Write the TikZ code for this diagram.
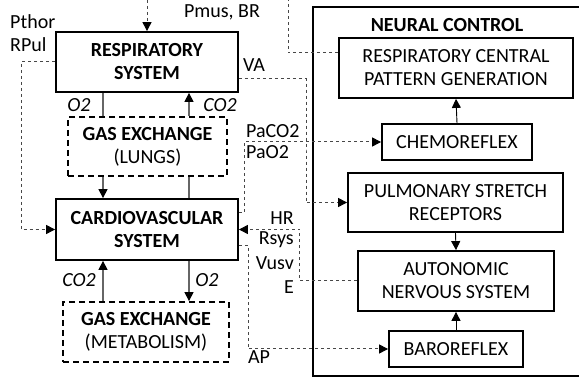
\documentclass[tikz,border=0pt]{standalone}
\usepackage{fontspec}
\setmainfont{Carlito}
\usetikzlibrary{arrows.meta,calc}
\newcommand\dfs{\fontsize{20}{23}\selectfont}
\begin{document}
\begin{tikzpicture}[x=1pt,y=-1pt,
  every node/.style={font=\dfs},
  box/.style={draw,line width=1.8pt,align=center,inner sep=0pt},
  gasbox/.style={draw,line width=1.8pt,align=center,inner sep=0pt,dash pattern=on 6pt off 4pt},
  conn/.style={draw=black!72,line width=1pt,dash pattern=on 3pt off 3pt},
  gasl/.style={draw=black!60,line width=1.2pt},
  tip/.style={-{Triangle[length=9pt,width=9pt,color=black,fill=black]}},
  lab/.style={inner sep=0pt}]
\useasboundingbox (0,0) rectangle (579,379);

% left column
\node[box,font=\dfs\bfseries,minimum width=182pt,minimum height=60pt] (resp) at (147,62) {RESPIRATORY\\SYSTEM};
\node[gasbox,minimum width=159pt,minimum height=59pt] (gasL) at (147.5,146.5) {\textbf{GAS EXCHANGE}\\(LUNGS)};
\node[box,font=\dfs\bfseries,minimum width=182pt,minimum height=61pt] (cv) at (147,229.5) {CARDIOVASCULAR\\SYSTEM};
\node[gasbox,minimum width=166pt,minimum height=60pt] (gasM) at (146,332) {\textbf{GAS EXCHANGE}\\(METABOLISM)};

% neural control
\draw[line width=1.8pt] (313,7) rectangle (600,376);
\node[lab,font=\dfs\bfseries] (nctitle) at (447,25) {NEURAL CONTROL};
\node[box,minimum width=234pt,minimum height=60pt] (rcpg) at (456,68) {RESPIRATORY CENTRAL\\PATTERN GENERATION};
\node[box,minimum width=150pt,minimum height=36pt] (chemo) at (457,142) {CHEMOREFLEX};
\node[box,minimum width=215pt,minimum height=59pt] (psr) at (455.5,202.5) {PULMONARY STRETCH\\RECEPTORS};
\node[box,minimum width=196pt,minimum height=60pt] (ans) at (456,281) {AUTONOMIC\\NERVOUS SYSTEM};
\node[box,minimum width=134pt,minimum height=36pt] (baro) at (456,349) {BAROREFLEX};

\draw[tip,line width=0.9pt] (chemo.north) -- (rcpg.south);
\draw[tip,line width=0.9pt] (psr.south) -- (ans.north);
\draw[tip,line width=0.9pt] (baro.north) -- (ans.south);

% gas lines
\coordinate (xl) at (103,0);
\coordinate (xr) at (189,0);
\draw[gasl] (resp.south -| xl) -- (gasL.north -| xl);
\draw[gasl,tip] (gasL.north -| xr) -- (resp.south -| xr);
\draw[gasl,tip] (gasL.south -| xl) -- (cv.north -| xl);
\draw[gasl] (cv.north -| xr) -- (gasL.south -| xr);
\draw[gasl,tip] (gasM.north -| xl) -- (cv.south -| xl);
\draw[gasl,tip] (cv.south -| xr) -- (gasM.north -| xr);

% dashed connectors
\coordinate (topA) at (147,0);
\coordinate (topB) at (288,0);
\draw[conn,tip] (topA) -- (resp.north);
\draw[conn] ($(rcpg.north west)!0.25!(rcpg.south west)$) -| (topB);
\draw[conn,tip] (resp.west) -| ($(cv.west)+(-34,0)$) -- (cv.west);
\draw[conn,tip] ($(resp.north east)!0.77!(resp.south east)$) -| (306,150) |- (psr.west);
\draw[conn,tip] ($(cv.north east)!0.23!(cv.south east)$) -| (244,170) |- (chemo.west);
\draw[conn,tip] (ans.west) -| ($(cv.east)+(61,0)$) -- (cv.east);
\draw[conn,tip] ($(cv.north east)!0.75!(cv.south east)$) -| (248,300) |- (baro.west);

% labels
\node[lab] (lpmus) at (222,12) {Pmus, BR};
\node[lab,anchor=west] (lpthor) at (10,22) {Pthor};
\node[lab,anchor=west] (lrpul) at (10,45) {RPul};
\node[lab] (lva) at (254,65) {VA};
\node[lab,font=\dfs\itshape] (lo2a) at (79,105) {O2};
\node[lab,font=\dfs\itshape] (lco2a) at (220,105) {CO2};
\node[lab,anchor=west] (lpaco2) at (246,131) {PaCO2};
\node[lab,anchor=west] (lpao2) at (246,152) {PaO2};
\node[lab,anchor=east] (lhr) at (294,218) {HR};
\node[lab,anchor=east] (lrsys) at (294,240) {Rsys};
\node[lab,anchor=east] (lvusv) at (294,263) {Vusv};
\node[lab,anchor=east] (le) at (294,287) {E};
\node[lab] (lap) at (259,357) {AP};
\node[lab,font=\dfs\itshape] (lco2b) at (79,280) {CO2};
\node[lab,font=\dfs\itshape] (lo2b) at (207,280) {O2};
\end{tikzpicture}
\end{document}
